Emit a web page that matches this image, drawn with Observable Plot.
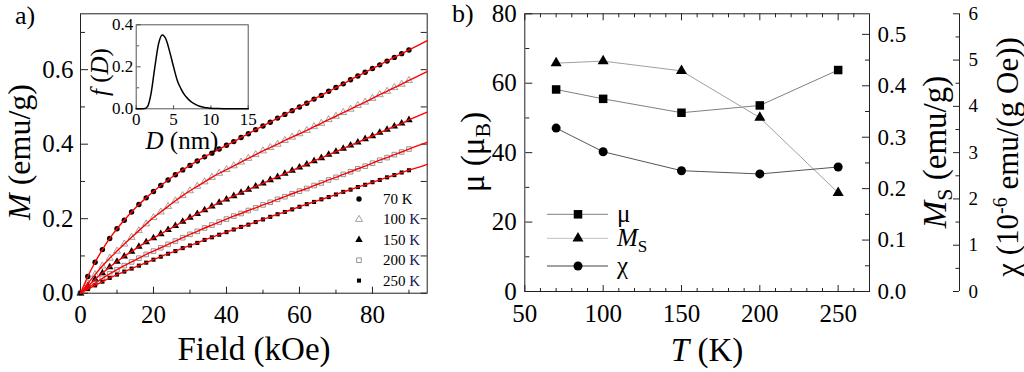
<!DOCTYPE html>
<html><head><meta charset="utf-8">
<script src="https://cdn.jsdelivr.net/npm/d3@7"></script>
<script src="https://cdn.jsdelivr.net/npm/@observablehq/plot@0.6"></script>
<style>
html,body{margin:0;padding:0;background:#fff;}
#wrap{position:relative;width:1024px;height:372px;overflow:hidden;background:#fff;font-family:"Liberation Serif","Times New Roman",Times,serif;}
#wrap svg, #wrap svg text{font-family:"Liberation Serif","Times New Roman",Times,serif !important;}
</style></head><body><div id="wrap"></div>
<script>
// ---------- Panel a data: M(H) at several temperatures ----------
const field = [0,2,4,6,8,10,12,14,16,18,20,22,24,26,28,30,32,34,36,38,40,42,44,46,48,50,52,54,56,58,60,62,64,66,68,70,72,74,76,78,80,82,84,86,88,90];
const m70  = [0,0.045,0.083,0.117,0.147,0.173,0.196,0.218,0.238,0.256,0.273,0.289,0.304,0.318,0.331,0.343,0.355,0.366,0.376,0.387,0.397,0.407,0.418,0.428,0.439,0.449,0.459,0.470,0.480,0.490,0.500,0.510,0.521,0.531,0.542,0.552,0.562,0.573,0.583,0.593,0.603,0.613,0.623,0.633,0.643,0.653];
const m100 = [0,0.026,0.050,0.073,0.094,0.113,0.132,0.150,0.168,0.186,0.203,0.218,0.233,0.248,0.262,0.275,0.287,0.299,0.311,0.322,0.332,0.342,0.352,0.362,0.372,0.382,0.391,0.400,0.410,0.419,0.428,0.437,0.447,0.456,0.466,0.475,0.485,0.494,0.504,0.513,0.523,0.533,0.542,0.552,0.561,0.571];
const m150 = [0,0.019,0.037,0.054,0.070,0.085,0.099,0.112,0.125,0.137,0.148,0.159,0.170,0.181,0.192,0.203,0.213,0.223,0.233,0.243,0.252,0.261,0.270,0.278,0.287,0.295,0.304,0.312,0.321,0.329,0.338,0.346,0.355,0.363,0.372,0.380,0.388,0.397,0.405,0.414,0.422,0.431,0.439,0.448,0.456,0.465];
const m200 = [0,0.014,0.027,0.040,0.052,0.063,0.074,0.084,0.094,0.104,0.113,0.122,0.131,0.140,0.149,0.158,0.166,0.175,0.183,0.191,0.199,0.207,0.214,0.222,0.229,0.237,0.244,0.252,0.259,0.267,0.274,0.281,0.289,0.296,0.304,0.311,0.319,0.326,0.334,0.341,0.349,0.357,0.364,0.372,0.379,0.387];
const m250 = [0,0.011,0.021,0.031,0.041,0.050,0.058,0.066,0.074,0.082,0.090,0.098,0.106,0.113,0.121,0.128,0.135,0.143,0.150,0.157,0.164,0.171,0.178,0.184,0.191,0.198,0.205,0.212,0.218,0.225,0.232,0.239,0.245,0.252,0.258,0.265,0.272,0.278,0.285,0.291,0.298,0.304,0.311,0.317,0.324,0.330];
const tempNames = ["70 K","100 K","150 K","200 K","250 K"];
const fitEndField = 95;
const fitEnd = [0.678,0.595,0.486,0.405,0.346];
const fieldTicks = [0,20,40,60,80];
const fieldMinor = [10,30,50,70,90];
const mTicks = [0,0.2,0.4,0.6];
const mMinor = [0.1,0.3,0.5,0.7];

// ---------- Inset: size distribution ----------
const diam = [0,0.5,1,1.5,2,2.5,3,3.5,4,4.5,5,5.5,6,6.5,7,7.5,8,8.5,9,9.5,10,11,12,13,14,15];
const fD   = [0,0,0,0.01,0.075,0.2,0.31,0.352,0.33,0.27,0.2,0.135,0.095,0.065,0.045,0.03,0.02,0.012,0.007,0.005,0.003,0.001,0,0,0,0];
const dTicks = [0,5,10,15];
const fTicks = [0,0.2,0.4];

// ---------- Panel b data ----------
const temps = [70,100,150,200,250];
const mu  = [58.2,55.5,51.5,53.6,63.8];
const ms  = [0.444,0.448,0.429,0.338,0.192];
const chi = [3.53,3.02,2.61,2.54,2.69];
const tDomain = [50,270];
const tTicks = [50,100,150,200,250];
const tMinor = [60,70,80,90,110,120,130,140,160,170,180,190,210,220,230,240,260];
const muTicks = [0,20,40,60,80];
const muMinor = [10,30,50,70];
const msTicks = [0,0.1,0.2,0.3,0.4,0.5];
const msMinor = [0.05,0.15,0.25,0.35,0.45];
const chiTicks = [0,1,2,3,4,5,6];
const chiMinor = [0.5,1.5,2.5,3.5,4.5,5.5];

// ---------- helpers ----------
const wrap = document.getElementById("wrap");
function place(node, left, top) {
  node.style.position = "absolute"; node.style.left = left + "px"; node.style.top = top + "px";
  wrap.appendChild(node);
}
const FONT = '"Liberation Serif", "Times New Roman", Times, serif';
const st = {background: "transparent", fontFamily: FONT, color: "#000", overflow: "visible"};
const TK = "#222";
function ticksY(vals, side, size, o = {}) {
  return Plot.axisY(vals, {anchor: side === "left" ? "right" : "left", frameAnchor: side, tickSize: size, fill: "none", label: null, stroke: TK, ...o});
}
function ticksX(vals, side, size, o = {}) {
  return Plot.axisX(vals, {anchor: side === "bottom" ? "top" : "bottom", frameAnchor: side, tickSize: size, fill: "none", label: null, stroke: TK, ...o});
}
function labY(vals, side, fs, pad, fmt, o = {}) {
  return Plot.axisY(vals, {anchor: side, tickSize: 0, tickPadding: pad, fontSize: fs, tickFormat: fmt, label: null, fill: "#000", ...o});
}
function labX(vals, fs, pad, fmt, o = {}) {
  return Plot.axisX(vals, {anchor: "bottom", tickSize: 0, tickPadding: pad, fontSize: fs, tickFormat: fmt, label: null, fill: "#000", ...o});
}
const f1 = d3.format(".1f");

// ---------- Panel a ----------
const curves = [m70, m100, m150, m200, m250];
const pts = curves.map((m, j) => field.map((h, i) => ({T: tempNames[j], H: h, M: m[i]})));
const fits = curves.flatMap((m, j) => [...field.map((h, i) => ({T: tempNames[j], H: h, M: m[i]})), {T: tempNames[j], H: fitEndField, M: fitEnd[j]}]);

const plotA = Plot.plot({
  width: 440, height: 372, marginLeft: 80, marginRight: 13.3, marginTop: 13.3, marginBottom: 79.3,
  x: {domain: [0, 95]}, y: {domain: [0, 0.75]}, style: st,
  marks: [
    Plot.frame({stroke: TK}),
    labY(mTicks, "left", 25, 7, f1),
    labX(fieldTicks, 25, 12, d3.format("d")),
    ticksY(mTicks, "left", 7), ticksY(mMinor, "left", 4),
    ticksY([...mTicks, ...mMinor], "right", 6),
    ticksX(fieldTicks, "bottom", 7), ticksX(fieldMinor, "bottom", 4),
    Plot.dot(pts[0], {x: "H", y: "M", r: 2.7, symbol: "circle", fill: "#000"}),
    Plot.dot(pts[1], {x: "H", y: "M", r: 2.6, symbol: "triangle", fill: "none", stroke: "#8a8a8a", strokeWidth: 0.8}),
    Plot.dot(pts[2], {x: "H", y: "M", r: 2.8, symbol: "triangle", fill: "#000"}),
    Plot.dot(pts[3], {x: "H", y: "M", r: 2.6, symbol: "square", fill: "none", stroke: "#7a7a7a", strokeWidth: 0.8}),
    Plot.dot(pts[4], {x: "H", y: "M", r: 2.3, symbol: "square", fill: "#000"}),
    Plot.line(fits, {x: "H", y: "M", z: "T", stroke: "#ff0000", strokeWidth: 1.4, curve: "monotone-x"})
  ]
});
place(plotA, 0, 0);

// ---------- Inset ----------
const inset = Plot.plot({
  width: 160, height: 160, marginLeft: 35.7, marginRight: 12.3, marginTop: 9.3, marginBottom: 66.7,
  x: {domain: [0, 15]}, y: {domain: [0, 0.4]}, style: st,
  marks: [
    Plot.frame({stroke: "#555"}),
    labY(fTicks, "left", 17, 3, f1),
    labX(dTicks, 17, 4, d3.format("d")),
    ticksY(fTicks, "left", 4, {stroke: "#555"}),
    ticksY([0.1, 0.3], "left", 2.5, {stroke: "#555"}),
    ticksX(dTicks, "bottom", 4, {stroke: "#555"}),
    Plot.line(diam.map((d, i) => ({D: d, f: fD[i]})), {x: "D", y: "f", stroke: "#000", strokeWidth: 1.5, curve: "monotone-x"})
  ]
});
place(inset, 100, 15);

// ---------- Panel b (three overlaid layers, each with its own y scale) ----------
const geomB = {width: 584, height: 372, marginLeft: 84.3, marginRight: 155, marginTop: 13.3, marginBottom: 81, style: st};
const muData = temps.map((t, i) => ({T: t, v: mu[i]}));
const msData = temps.map((t, i) => ({T: t, v: ms[i]}));
const chiData = temps.map((t, i) => ({T: t, v: chi[i]}));

const plotMu = Plot.plot({
  ...geomB, x: {domain: tDomain}, y: {domain: [0, 80]},
  marks: [
    Plot.frame({stroke: TK}),
    labY(muTicks, "left", 25, 8, d3.format("d")),
    labX(tTicks, 25, 13, d3.format("d")),
    ticksY(muTicks, "left", 7), ticksY(muMinor, "left", 4),
    ticksX(tTicks, "bottom", 7), ticksX(tMinor, "bottom", 4),
    ticksX(tTicks, "top", 7), ticksX(tMinor, "top", 4),
    Plot.line(muData, {x: "T", y: "v", stroke: "#808080", strokeWidth: 1}),
    Plot.dot(muData, {x: "T", y: "v", symbol: "square", r: 4.8, fill: "#000"})
  ]
});
place(plotMu, 440, 0);

const plotMs = Plot.plot({
  ...geomB, x: {domain: tDomain, axis: null}, y: {domain: [0, 0.54]},
  marks: [
    labY(msTicks, "right", 23, 8, f1),
    ticksY(msTicks, "right", 7), ticksY(msMinor, "right", 4),
    Plot.line(msData, {x: "T", y: "v", stroke: "#a0a0a0", strokeWidth: 1}),
    Plot.dot(msData, {x: "T", y: "v", symbol: "triangle", r: 4.1, fill: "#000"})
  ]
});
place(plotMs, 440, 0);

const plotChi = Plot.plot({
  ...geomB, x: {domain: tDomain, axis: null}, y: {domain: [0, 6]},
  marks: [
    Plot.ruleX([tDomain[1]], {dx: 90, stroke: TK}),
    labY(chiTicks, "right", 19, 9, d3.format("d"), {dx: 90}),
    ticksY(chiTicks, "right", 6, {dx: 90}), ticksY(chiMinor, "right", 3.5, {dx: 90}),
    Plot.line(chiData, {x: "T", y: "v", stroke: "#555", strokeWidth: 1}),
    Plot.dot(chiData, {x: "T", y: "v", symbol: "circle", r: 4.5, fill: "#000"})
  ]
});
place(plotChi, 440, 0);

// ---------- Titles and legends (text overlay) ----------
const sym = (type, r) => d3.symbol(type, Math.PI * r * r)();
let s = `<svg xmlns="http://www.w3.org/2000/svg" width="1024" height="372" style="position:absolute;left:0;top:0" fill="#000">`;
s += `<text x="15" y="24" font-size="26">a)</text>`;
s += `<text x="452" y="22" font-size="26">b)</text>`;
s += `<text transform="translate(30,152) rotate(-90)" text-anchor="middle" font-size="32"><tspan font-style="italic">M</tspan> (emu/g)</text>`;
s += `<text x="254" y="360" text-anchor="middle" font-size="33">Field (kOe)</text>`;
s += `<text transform="translate(108,72) rotate(-90)" text-anchor="middle" font-size="25"><tspan font-style="italic">f</tspan> (<tspan font-style="italic">D</tspan>)</text>`;
s += `<text x="182" y="149" text-anchor="middle" font-size="25"><tspan font-style="italic">D</tspan> (nm)</text>`;
s += `<text transform="translate(484,152) rotate(-90)" text-anchor="middle" font-size="33">μ (μ<tspan dy="6" font-size="22">B</tspan><tspan dy="-6">)</tspan></text>`;
s += `<text x="707" y="361" text-anchor="middle" font-size="33"><tspan font-style="italic">T</tspan> (K)</text>`;
s += `<text transform="translate(946,152) rotate(-90)" text-anchor="middle" font-size="33"><tspan font-style="italic">M</tspan><tspan dy="6" font-size="22">S</tspan><tspan dy="-6"> (emu/g)</tspan></text>`;
s += `<text transform="translate(1018,157) rotate(-90)" text-anchor="middle" font-size="31">χ (10<tspan dy="-11" font-size="20">-6</tspan><tspan dy="11"> emu/(g Oe))</tspan></text>`;
// legend a
const legA = [
  {p: sym(d3.symbolCircle, 2.7), fill: "#000", stroke: "none"},
  {p: sym(d3.symbolTriangle, 2.6), fill: "none", stroke: "#8a8a8a"},
  {p: sym(d3.symbolTriangle, 2.8), fill: "#000", stroke: "none"},
  {p: sym(d3.symbolSquare, 2.6), fill: "none", stroke: "#7a7a7a"},
  {p: sym(d3.symbolSquare, 2.3), fill: "#000", stroke: "none"}
];
legA.forEach((d, i) => {
  const y = 199 + i * 20.4;
  const [num, k] = tempNames[i].split(" ");
  s += `<path transform="translate(359,${y})" d="${d.p}" fill="${d.fill}" stroke="${d.stroke}" stroke-width="0.8"/>`;
  s += `<text x="383" y="${y + 5}" font-size="15">${num} <tspan fill="${i === 0 ? "#000" : "#141450"}">${k}</tspan></text>`;
});
// legend b
const legB = [
  {y: 214.3, p: sym(d3.symbolSquare, 4.8), line: "#808080", label: "μ"},
  {y: 238.3, p: sym(d3.symbolTriangle, 4.1), line: "#c0c0c0", label: `<tspan font-style="italic">M</tspan><tspan dy="6" font-size="17">S</tspan>`},
  {y: 266, p: sym(d3.symbolCircle, 4.5), line: "#444", label: "χ"}
];
legB.forEach(d => {
  s += `<line x1="547" x2="608" y1="${d.y}" y2="${d.y}" stroke="${d.line}" stroke-width="1"/>`;
  s += `<path transform="translate(578,${d.y})" d="${d.p}" fill="#000"/>`;
  s += `<text x="617" y="${d.y + 8}" font-size="25">${d.label}</text>`;
});
s += `</svg>`;
wrap.insertAdjacentHTML("beforeend", s);
</script></body></html>
